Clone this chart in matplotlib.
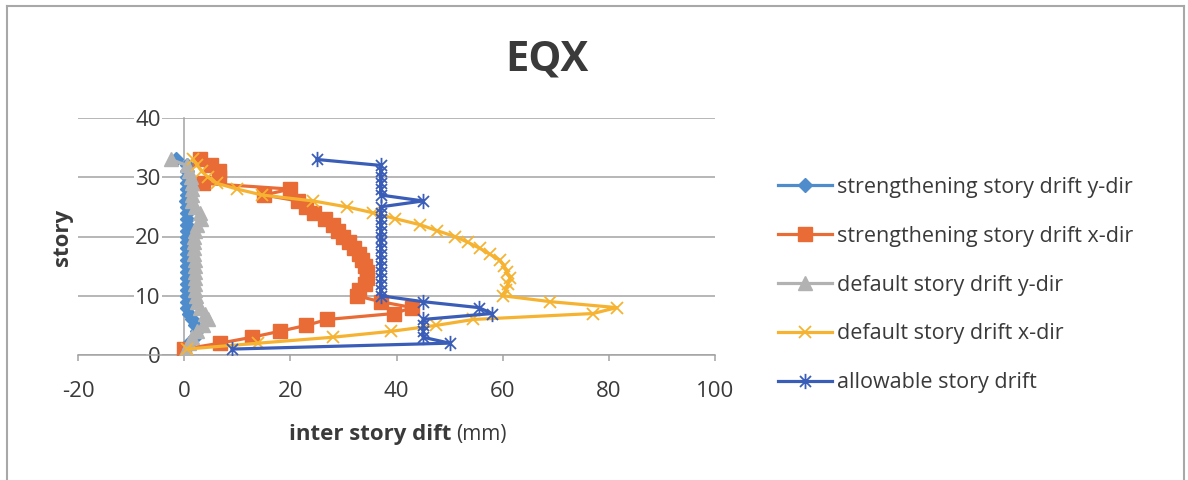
import matplotlib
matplotlib.use("Agg")
import matplotlib.pyplot as plt
from matplotlib.path import Path
from matplotlib.lines import Line2D

# ---------------- data ----------------
stories = list(range(1, 34))

strength_y = [0.0, 1.0, 2.0, 2.5, 2.0, 1.5, 1.0, 0.5, 0.5, 0.5,
              0.5, 0.5, 0.5, 0.5, 0.5, 0.5, 0.5, 0.5, 0.5, 0.5,
              0.5, 0.5, 0.5, 0.5, 0.5, 0.3, 0.5, 0.5, 0.5, 0.5,
              0.5, 0.5, -1.5]

strength_x = [0.0, 6.8, 12.8, 18.0, 23.0, 27.0, 39.5, 43.0, 37.0, 32.5,
              33.0, 34.0, 34.4, 34.4, 34.0, 33.5, 33.0, 32.0, 31.0, 30.0,
              29.0, 28.0, 26.5, 24.5, 23.0, 21.5, 15.0, 20.0, 3.5, 6.5,
              6.5, 5.0, 3.0]

default_y = [0.3, 1.0, 1.5, 2.5, 3.5, 4.5, 4.0, 3.0, 2.5, 2.2,
             2.0, 2.0, 2.0, 2.0, 2.0, 2.0, 1.8, 1.8, 1.8, 1.8,
             2.0, 2.5, 3.2, 3.0, 2.0, 1.5, 1.5, 1.5, 1.5, 1.2,
             1.0, 0.5, -2.5]

default_x = [0.5, 14.0, 28.0, 39.0, 47.5, 54.5, 77.0, 81.5, 69.0, 60.0,
             60.6, 61.0, 61.4, 60.8, 60.3, 59.5, 57.6, 55.7, 53.5, 51.0,
             47.6, 44.4, 39.8, 35.6, 30.6, 24.3, 14.7, 10.0, 6.1, 4.5,
             3.3, 2.5, 1.7]

allowable = [9.0, 50.0, 45.0, 45.0, 45.0, 45.0, 58.0, 55.5, 45.0, 37.0,
             37.0, 37.0, 37.0, 37.0, 37.0, 37.0, 37.0, 37.0, 37.0, 37.0,
             37.0, 37.0, 37.0, 37.0, 37.0, 45.0, 37.0, 37.0, 37.0, 37.0,
             37.0, 37.0, 25.0]

series_labels = ["strengthening story drift y-dir",
                 "strengthening story drift x-dir",
                 "default story drift y-dir",
                 "default story drift x-dir",
                 "allowable story drift"]

x_ticks = [-20, 0, 20, 40, 60, 80, 100]
y_ticks = [0, 10, 20, 30, 40]

title = "EQX"
ylabel = "story"
xlabel_main = "inter story dift"
xlabel_unit = "(mm)"

# ---------------- style ----------------
FONT = "Open Sans"
plt.rcParams["font.family"] = [FONT, "DejaVu Sans"]
plt.rcParams["axes.unicode_minus"] = False
TXT = "#3a3a3a"

c_blue = "#4F8CCB"
c_orange = "#E96B35"
c_gray = "#B2B2B2"
c_yellow = "#F6B331"
c_dblue = "#3A5DB8"

star = Path([(0, -1), (0, 1), (-0.72, -0.72), (0.72, 0.72), (-0.72, 0.72), (0.72, -0.72)],
            [Path.MOVETO, Path.LINETO] * 3)

W, H = 1188, 480
fig = plt.figure(figsize=(W / 100, H / 100), dpi=100)
fig.patch.set_facecolor("white")

# chart frame
for (x0, y0, x1, y1) in [(7, 6, 1184, 6), (7, 6, 7, 482), (1184, 6, 1184, 482)]:
    fig.add_artist(Line2D([x0 / W, x1 / W], [1 - y0 / H, 1 - y1 / H],
                          transform=fig.transFigure, color="#a8a8a8", lw=1.5))

ax = fig.add_axes([78 / W, 1 - 355 / H, 637 / W, 237 / H])
ax.set_xlim(-20, 100)
ax.set_ylim(0, 40)

lw = 2.3
h1, = ax.plot(strength_y, stories, color=c_blue, lw=lw, marker="D", ms=7,
              mfc=c_blue, mec=c_blue, label=series_labels[0], zorder=3)
h2, = ax.plot(strength_x, stories, color=c_orange, lw=lw, marker="s", ms=10,
              mfc=c_orange, mec=c_orange, label=series_labels[1], zorder=4)
h3, = ax.plot(default_y, stories, color=c_gray, lw=lw, marker="^", ms=10,
              mfc=c_gray, mec=c_gray, label=series_labels[2], zorder=5)
h4, = ax.plot(default_x, stories, color=c_yellow, lw=lw, marker="x", ms=9,
              mew=1.3, mec=c_yellow, label=series_labels[3], zorder=6)
h5, = ax.plot(allowable, stories, color=c_dblue, lw=lw, marker=star, ms=11,
              mew=1.3, mec=c_dblue, mfc="none", label=series_labels[4], zorder=7)

ax.set_xticks(x_ticks)
ax.set_yticks(y_ticks)
ax.grid(axis="y", color="#a3a3a3", lw=1.1, zorder=0)
ax.set_axisbelow(True)

for s in ["top", "right"]:
    ax.spines[s].set_visible(False)
ax.spines["left"].set_position(("data", 0))
ax.spines["left"].set_color("#a3a3a3")
ax.spines["left"].set_linewidth(1.1)
ax.spines["bottom"].set_color("#a3a3a3")
ax.spines["bottom"].set_linewidth(1.1)

ax.tick_params(axis="y", length=0, pad=17, labelsize=16, labelcolor=TXT)
ax.tick_params(axis="x", length=4, width=1.1, color="#a3a3a3", pad=15,
               labelsize=16, labelcolor=TXT, direction="out")
for lab in ax.get_yticklabels():
    lab.set_bbox(dict(facecolor="white", edgecolor="none", pad=1))

# title
fig.text(547 / W, 1 - 60 / H, title, ha="center", va="center",
         fontsize=30, fontweight="bold", color=TXT)

# y label
fig.text(62 / W, 1 - 237 / H, ylabel, rotation=90, ha="center", va="center",
         fontsize=16, fontweight="bold", color=TXT)

# x label (bold part + regular unit)
t1 = fig.text(289 / W, 1 - 440 / H, xlabel_main, ha="left", va="baseline",
              fontsize=16, fontweight="bold", color=TXT)
fig.canvas.draw()
bb = t1.get_window_extent()
fig.text((bb.x1 + 5) / W, 1 - 440 / H, xlabel_unit, ha="left", va="baseline",
         fontsize=15, color=TXT)

# legend
leg = fig.legend(handles=[h1, h2, h3, h4, h5], loc="center left",
                 bbox_to_anchor=(778 / W, 1 - 285 / H), frameon=False,
                 fontsize=15.5, handlelength=2.5, handletextpad=0.25,
                 labelspacing=1.3, borderpad=0, borderaxespad=0)
for t in leg.get_texts():
    t.set_color(TXT)

fig.savefig("out.png", dpi=100, facecolor="white")
